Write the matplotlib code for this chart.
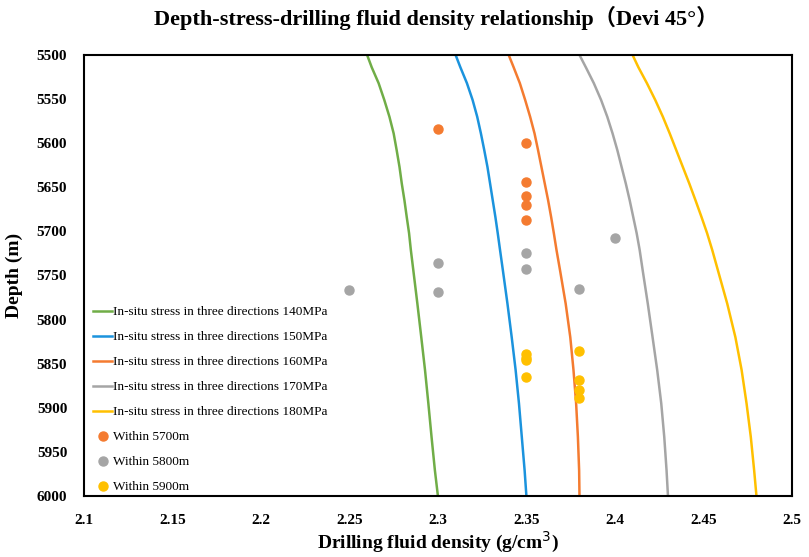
import numpy as np
import matplotlib.pyplot as plt

# 深度 (m)
depth = [5500, 5514, 5532, 5551, 5570, 5589, 5608, 5627, 5646, 5665, 5684,
         5702, 5721, 5744, 5782, 5820, 5857, 5895, 5933, 5971, 6000]

# 各地应力下的钻井液密度 (g/cm3)
rho_140 = [2.2600, 2.2626, 2.2665, 2.2697, 2.2726, 2.2750, 2.2767, 2.2783, 2.2796, 2.2811, 2.2824,
           2.2837, 2.2847, 2.2861, 2.2884, 2.2906, 2.2927, 2.2946, 2.2964, 2.2983, 2.3000]
rho_150 = [2.3100, 2.3127, 2.3164, 2.3196, 2.3222, 2.3243, 2.3262, 2.3280, 2.3295, 2.3310, 2.3325,
           2.3338, 2.3351, 2.3367, 2.3393, 2.3417, 2.3439, 2.3458, 2.3474, 2.3490, 2.3500]
rho_160 = [2.3400, 2.3428, 2.3463, 2.3493, 2.3521, 2.3546, 2.3566, 2.3585, 2.3604, 2.3623, 2.3640,
           2.3655, 2.3670, 2.3690, 2.3722, 2.3748, 2.3766, 2.3781, 2.3791, 2.3798, 2.3800]
rho_170 = [2.3800, 2.3836, 2.3881, 2.3922, 2.3957, 2.3987, 2.4014, 2.4038, 2.4062, 2.4084, 2.4104,
           2.4123, 2.4140, 2.4157, 2.4186, 2.4213, 2.4239, 2.4262, 2.4279, 2.4292, 2.4300]
rho_180 = [2.4100, 2.4133, 2.4181, 2.4228, 2.4271, 2.4310, 2.4347, 2.4384, 2.4421, 2.4456, 2.4490,
           2.4521, 2.4550, 2.4582, 2.4635, 2.4681, 2.4716, 2.4744, 2.4768, 2.4787, 2.4800]

# 实测点
x_5700 = [2.30, 2.35, 2.35, 2.35, 2.35, 2.35]
y_5700 = [5584, 5600, 5644, 5660, 5670, 5687]
x_5800 = [2.40, 2.35, 2.35, 2.30, 2.30, 2.25, 2.38]
y_5800 = [5707, 5724, 5743, 5736, 5769, 5766, 5765]
x_5900 = [2.35, 2.35, 2.35, 2.35, 2.38, 2.38, 2.38, 2.38]
y_5900 = [5839, 5843, 5846, 5865, 5836, 5869, 5880, 5889]

x_ticks = [2.1, 2.15, 2.2, 2.25, 2.3, 2.35, 2.4, 2.45, 2.5]
x_tick_labels = ['2.1', '2.15', '2.2', '2.25', '2.3', '2.35', '2.4', '2.45', '2.5']
y_ticks = list(range(5500, 6001, 50))

plt.rcParams['font.family'] = ['Liberation Serif', 'DejaVu Serif']

fig = plt.figure(figsize=(8.09, 5.57), dpi=100)
ax = fig.add_axes([0.1038, 0.1095, 0.875, 0.7918])

ax.plot(rho_140, depth, color='#70AD47', lw=1.8, label='In-situ stress in three directions 140MPa')
ax.plot(rho_150, depth, color='#1B93DD', lw=1.8, label='In-situ stress in three directions 150MPa')
ax.plot(rho_160, depth, color='#F47B30', lw=1.8, label='In-situ stress in three directions 160MPa')
ax.plot(rho_170, depth, color='#A5A5A5', lw=1.8, label='In-situ stress in three directions 170MPa')
ax.plot(rho_180, depth, color='#FFC000', lw=1.8, label='In-situ stress in three directions 180MPa')

ax.plot(x_5700, y_5700, 'o', color='#F47B30', ms=6.5, label='Within 5700m')
ax.plot(x_5800, y_5800, 'o', color='#A5A5A5', ms=6.5, label='Within 5800m')
ax.plot(x_5900, y_5900, 'o', color='#FFC000', ms=6.5, label='Within 5900m')

ax.set_xlim(2.1, 2.5)
ax.set_ylim(6000, 5500)
ax.set_xticks(x_ticks)
ax.set_xticklabels(x_tick_labels)
ax.set_yticks(y_ticks)
ax.tick_params(axis='x', length=0, pad=13, labelsize=11)
ax.tick_params(axis='y', length=0, pad=12, labelsize=11)
for lab in ax.get_xticklabels() + ax.get_yticklabels():
    lab.set_fontweight('bold')
for s in ax.spines.values():
    s.set_linewidth(1.5)

ax.set_xlabel('Drilling fluid density (g/cm$^3$)', fontsize=14, fontweight='bold', labelpad=2)
ax.set_ylabel('Depth (m)', fontsize=14, fontweight='bold', labelpad=10)
fig.text(0.539, 0.968, 'Depth-stress-drilling fluid density relationship（Devi 45°）',
         fontsize=16, fontweight='bold', ha='center', va='center',
         family=['Liberation Serif', 'Noto Sans CJK SC'])

ax.legend(loc='lower left', bbox_to_anchor=(0.009, 0.0), frameon=False, fontsize=9.5,
          handlelength=1.45, handletextpad=0.1, labelspacing=0.97,
          borderaxespad=0, borderpad=0.2)

plt.savefig('out.png', dpi=100)
